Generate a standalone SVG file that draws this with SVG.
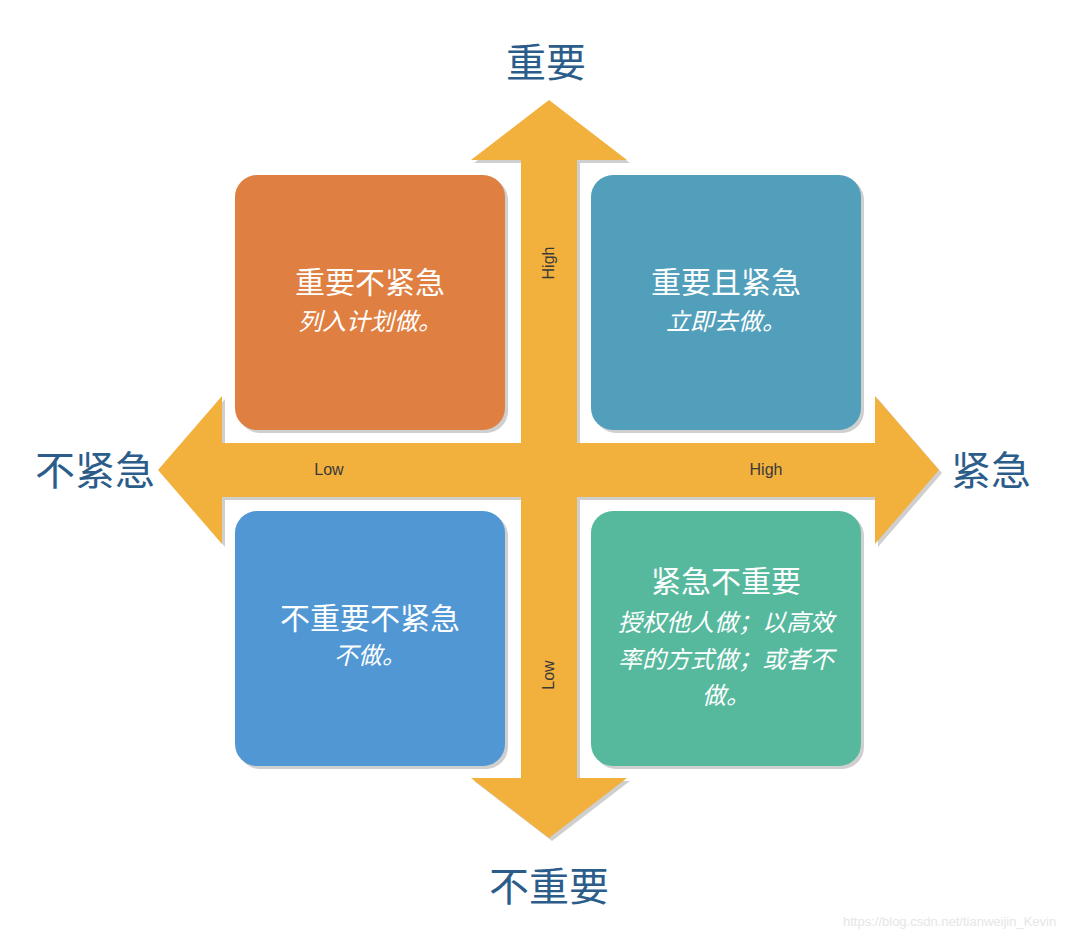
<svg xmlns="http://www.w3.org/2000/svg" width="1080" height="936" viewBox="0 0 1080 936">
<defs>
<style>
.axis{font-family:"Noto Sans CJK SC","Noto Sans",sans-serif;font-size:40px;fill:#2c5d8a;text-anchor:middle;font-weight:400}
.title{font-family:"Noto Sans CJK SC","Noto Sans",sans-serif;font-size:30px;fill:#ffffff;text-anchor:middle}
.sub{font-family:"Noto Sans CJK SC","Noto Sans",sans-serif;font-size:24px;fill:#ffffff;text-anchor:middle;font-style:italic}
.lbl{font-family:"Liberation Sans",Arial,sans-serif;font-size:16px;fill:#3a3a3a;text-anchor:middle}
.shadow{fill:#cfcfcf}
.wm{font-family:"Liberation Sans",Arial,sans-serif;font-size:13px;fill:#e6e6e6}
</style>
<path id="cross" d="M549,100 L627,160 L577,160 L577,443 L875,443 L875,396 L939,470 L875,544 L875,497 L577,497 L577,778 L627,778 L549,838 L471,778 L521,778 L521,497 L222,497 L222,544 L158,470 L222,396 L222,443 L521,443 L521,160 L471,160 Z"/>
<rect id="box" x="0" y="0" width="270" height="255" rx="22" ry="22"/>
</defs>
<rect width="1080" height="936" fill="#ffffff"/>
<g id="connectors">
<use href="#cross" class="shadow" transform="translate(3,3)"/>
<use href="#cross" fill="#f2b03d"/>
<text class="lbl" x="329" y="475">Low</text>
<text class="lbl" x="766" y="475">High</text>
<text class="lbl" transform="translate(554,263) rotate(-90)">High</text>
<text class="lbl" transform="translate(554,675) rotate(-90)">Low</text>
</g>
<g id="axis-important"><text class="axis" x="546" y="77">重要</text></g>
<g id="axis-notimportant"><text class="axis" x="549" y="901">不重要</text></g>
<g id="axis-noturgent"><text class="axis" x="95" y="485">不紧急</text></g>
<g id="axis-urgent"><text class="axis" x="991" y="485">紧急</text></g>
<g id="q-important-not-urgent">
<use href="#box" class="shadow" transform="translate(238,178)"/>
<use href="#box" fill="#df7f41" transform="translate(235,175)"/>
<text class="title" x="370" y="293">重要不紧急</text>
<text class="sub" x="370" y="330">列入计划做。</text>
</g>
<g id="q-important-urgent">
<use href="#box" class="shadow" transform="translate(594,178)"/>
<use href="#box" fill="#519fba" transform="translate(591,175)"/>
<text class="title" x="726" y="293">重要且紧急</text>
<text class="sub" x="726" y="330">立即去做。</text>
</g>
<g id="q-not-important-not-urgent">
<use href="#box" class="shadow" transform="translate(238,514)"/>
<use href="#box" fill="#5097d4" transform="translate(235,511)"/>
<text class="title" x="370" y="629">不重要不紧急</text>
<text class="sub" x="370" y="664">不做。</text>
</g>
<g id="q-urgent-not-important">
<use href="#box" class="shadow" transform="translate(594,514)"/>
<use href="#box" fill="#56b99d" transform="translate(591,511)"/>
<text class="title" x="726" y="592">紧急不重要</text>
<text class="sub" x="726" y="631">授权他人做；以高效</text>
<text class="sub" x="726" y="668">率的方式做；或者不</text>
<text class="sub" x="726" y="704">做。</text>
</g>
<text class="wm" x="843" y="926">https://blog.csdn.net/tianweijin_Kevin</text>
</svg>
